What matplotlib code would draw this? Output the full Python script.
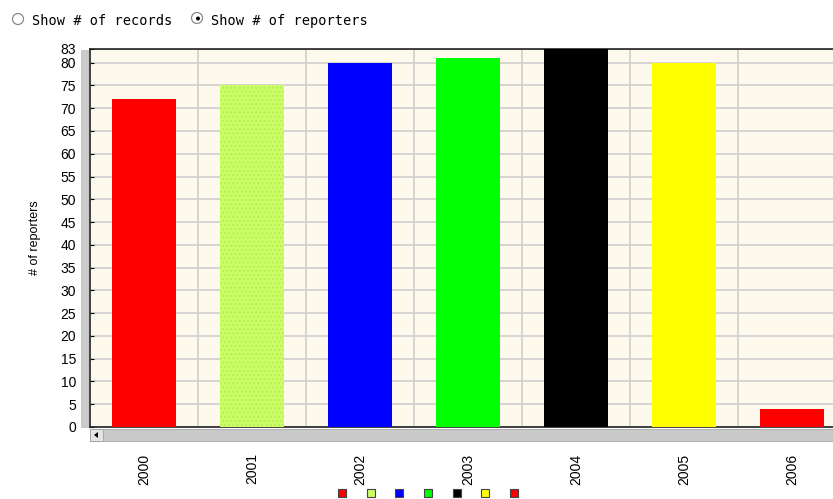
import matplotlib.pyplot as plt
from matplotlib.patches import Rectangle, Circle, Polygon

years = ["2000", "2001", "2002", "2003", "2004", "2005", "2006"]
reporters = [72, 75, 80, 81, 83, 80, 4]
colors = ["#ff0000", "#ccff66", "#0000ff", "#00ff00", "#000000", "#ffff00", "#ff0000"]
yticks = [0, 5, 10, 15, 20, 25, 30, 35, 40, 45, 50, 55, 60, 65, 70, 75, 80, 83]

W, H = 833, 499
plt.rcParams['font.family'] = ['Liberation Sans', 'DejaVu Sans']
fig = plt.figure(figsize=(W / 100, H / 100), dpi=100)

ax = fig.add_axes([90 / W, 1 - 427 / H, 756 / W, 378 / H])
ax.set_facecolor("#fdf9ec")

x = range(len(years))
bars = ax.bar(x, reporters, width=0.595, color=colors, zorder=3)
bars[1].set_hatch("....")
bars[1].set_edgecolor("#b8ee58")
bars[1].set_linewidth(0)

ax.set_xlim(-0.5, len(years) - 0.5)
ax.set_ylim(0, 83)
ax.set_yticks(yticks)
ax.set_xticks(list(x))
ax.set_xticklabels(years, rotation=90, fontsize=10)
ax.tick_params(axis="x", length=0, pad=19)
ax.tick_params(axis="y", direction="in", length=3, labelsize=10, pad=10)
for b in [i + 0.5 for i in range(len(years) - 1)]:
    ax.axvline(b, color="#d2d2d2", lw=1.3, zorder=1)
ax.yaxis.grid(True, color="#d2d2d2", lw=1.3, zorder=1)
ax.set_axisbelow(True)
for s in ["top", "left", "bottom"]:
    ax.spines[s].set_color("#222222")
    ax.spines[s].set_linewidth(1.2)
ax.spines["right"].set_visible(False)
ax.set_ylabel("# of reporters", fontsize=9, labelpad=14)

# overlay in pixel coordinates for the widget bits
ov = fig.add_axes([0, 0, 1, 1], facecolor="none")
ov.set_xlim(0, W)
ov.set_ylim(H, 0)
ov.axis("off")

# vertical scroll strip left of axis
ov.add_patch(Rectangle((81, 50), 7, 377, facecolor="#cbcbcb", edgecolor="#b8b8b8", lw=0.5))
# horizontal scrollbar below axis
ov.add_patch(Rectangle((90, 429), 743, 12, facecolor="#c9c9c9", edgecolor="#a8a8a8", lw=0.6))
ov.add_patch(Rectangle((90, 429), 13, 12, facecolor="#e4e4e4", edgecolor="#a0a0a0", lw=0.6))
ov.add_patch(Polygon([(94, 435), (98, 432), (98, 438)], closed=True, facecolor="#000000"))

# legend squares
for i, c in enumerate(colors):
    cx = 342 + i * 28.7
    ov.add_patch(Rectangle((cx - 4, 489), 8, 8, facecolor=c, edgecolor="#444444", lw=0.8))

# radio buttons header
ov.add_patch(Circle((18, 19), 5.5, facecolor="white", edgecolor="#888888", lw=0.9))
ov.add_patch(Circle((197, 18), 5.5, facecolor="white", edgecolor="#888888", lw=0.9))
ov.add_patch(Circle((198, 18.5), 2, facecolor="black", edgecolor="none"))
ov.text(32, 21, "Show # of records", fontsize=9.8, va="center", family="DejaVu Sans Mono")
ov.text(211, 21, "Show # of reporters", fontsize=9.8, va="center", family="DejaVu Sans Mono")

fig.savefig("out.png", dpi=100)
